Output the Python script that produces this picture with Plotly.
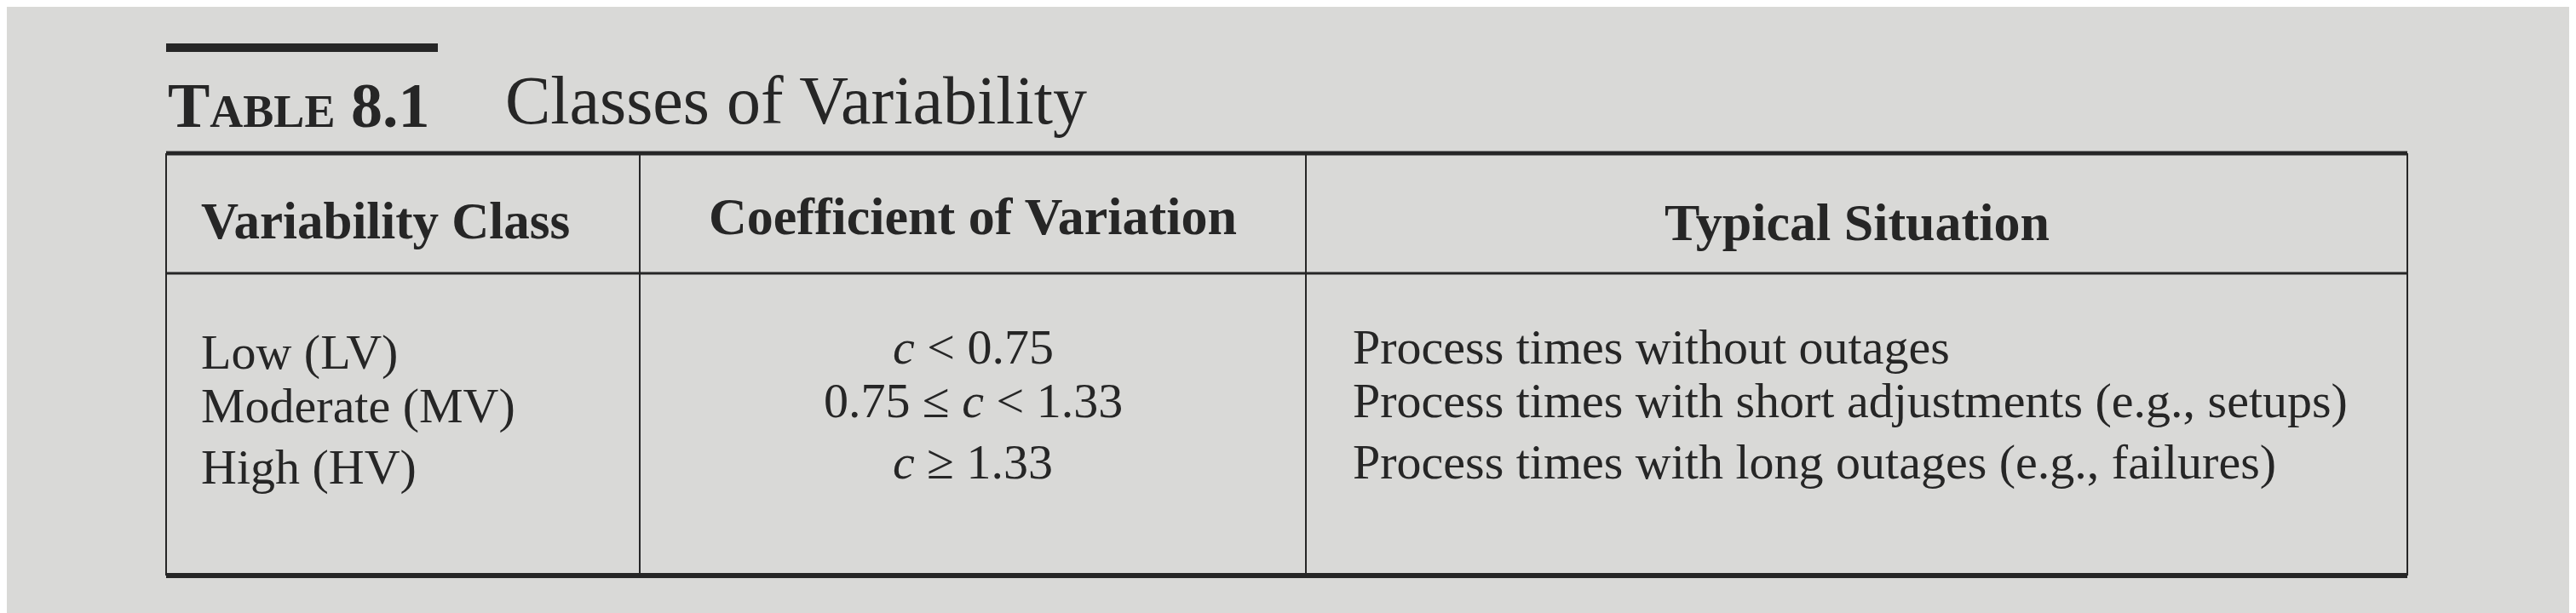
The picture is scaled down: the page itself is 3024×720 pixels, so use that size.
import plotly.graph_objects as go

# Table contents
title_tag = "T<span style='font-size:54px'>ABLE</span> 8.1"
title_text = "Classes of Variability"
headers = ["Variability Class", "Coefficient of Variation", "Typical Situation"]
classes = ["Low (LV)", "Moderate (MV)", "High (HV)"]
coefficients = ["<i>c</i> < 0.75", "0.75 ≤ <i>c</i> < 1.33", "<i>c</i> ≥ 1.33"]
situations = [
    "Process times without outages",
    "Process times with short adjustments (e.g., setups)",
    "Process times with long outages (e.g., failures)",
]

W, H = 3024, 720
ink = "#262626"
font = "Liberation Serif, DejaVu Serif, serif"

fig = go.Figure()

# table geometry (pixel coords)
left, right = 187, 2818
top, head_bot, bottom = 172, 313, 668
col1, col2 = 743, 1525
row_y = [405, 468, 540]

shapes = [
    dict(type="line", x0=187, x1=506, y0=48, y1=48, line=dict(color=ink, width=10)),
    dict(type="line", x0=left, x1=right, y0=top, y1=top, line=dict(color=ink, width=5)),
    dict(type="line", x0=left, x1=right, y0=head_bot, y1=head_bot, line=dict(color=ink, width=3)),
    dict(type="line", x0=left, x1=right, y0=bottom, y1=bottom, line=dict(color=ink, width=6)),
    dict(type="line", x0=left, x1=left, y0=top, y1=bottom, line=dict(color=ink, width=2)),
    dict(type="line", x0=right, x1=right, y0=top, y1=bottom, line=dict(color=ink, width=2)),
    dict(type="line", x0=col1, x1=col1, y0=top, y1=bottom, line=dict(color=ink, width=2)),
    dict(type="line", x0=col2, x1=col2, y0=top, y1=bottom, line=dict(color=ink, width=2)),
]

ann = []
ann.append(dict(x=187, y=116, text="<b>" + title_tag + "</b>", xanchor="left", font=dict(size=74)))
ann.append(dict(x=583, y=110, text=title_text, xanchor="left", font=dict(size=80)))

ann.append(dict(x=226, y=251, text="<b>" + headers[0] + "</b>", xanchor="left", font=dict(size=61)))
ann.append(dict(x=(col1 + col2) / 2, y=246, text="<b>" + headers[1] + "</b>", xanchor="center", font=dict(size=62)))
ann.append(dict(x=(col2 + right) / 2, y=253, text="<b>" + headers[2] + "</b>", xanchor="center", font=dict(size=62)))

for i in range(len(classes)):
    ann.append(dict(x=226, y=row_y[i], text=classes[i], xanchor="left", font=dict(size=58)))
    ann.append(dict(x=(col1 + col2) / 2, y=row_y[i] - 6, text=coefficients[i], xanchor="center", font=dict(size=58)))
    ann.append(dict(x=1578, y=row_y[i] - 6, text=situations[i], xanchor="left", font=dict(size=58)))

for a in ann:
    a.update(xref="x", yref="y", showarrow=False, yanchor="middle")
    a["font"].update(family=font, color=ink)

fig.update_layout(
    width=W, height=H,
    margin=dict(l=0, r=0, t=0, b=0),
    paper_bgcolor="#d9d9d7", plot_bgcolor="#d9d9d7",
    xaxis=dict(range=[0, W], visible=False, fixedrange=True),
    yaxis=dict(range=[H, 0], visible=False, fixedrange=True),
    shapes=shapes, annotations=ann, showlegend=False,
)
fig.write_html("out.html")
